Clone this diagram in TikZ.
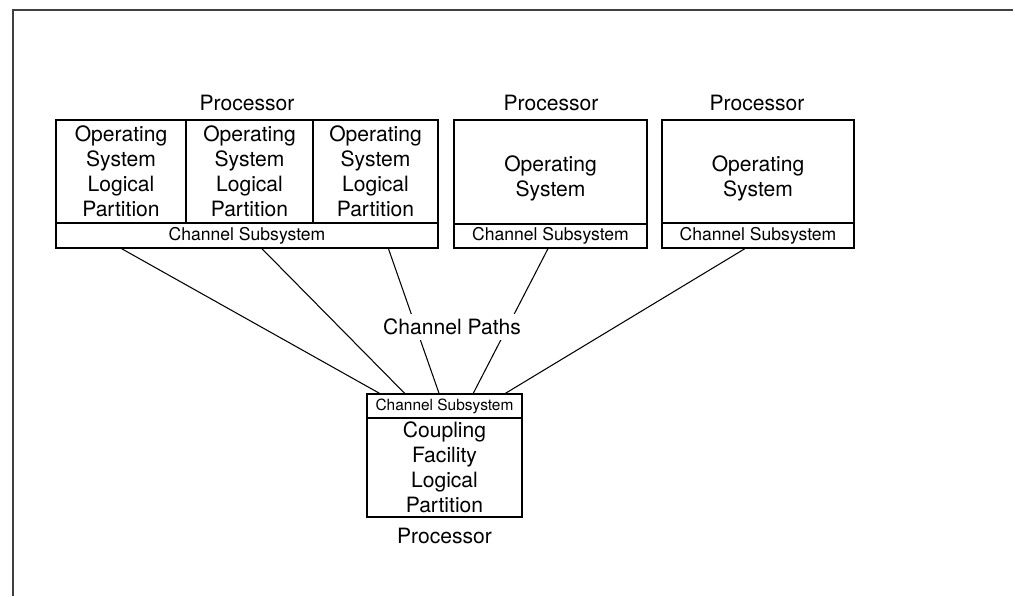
\documentclass[tikz,border=0pt]{standalone}
\usepackage{fontspec}
\setmainfont{TeX Gyre Heros}
\usetikzlibrary{calc}

\tikzset{
  partbox/.style={draw, line width=0.8pt, inner sep=0pt, align=center,
    font=\fontsize{12}{14.2}\selectfont},
  chanbox/.style={draw, line width=0.8pt, inner sep=0pt,
    font=\fontsize{10}{12}\selectfont},
  proclabel/.style={font=\fontsize{12}{14.2}\selectfont},
  chanline/.style={line width=0.6pt},
}

\begin{document}
\begin{tikzpicture}[x=0.02cm, y=-0.02cm]
    \useasboundingbox (0,0) rectangle (1015,596);
    \draw[line width=1.1pt, black!75] (1013,10) -- (13,10) -- (13,596);

    % Nodes
    % processor with three partitions
    \node[partbox, minimum width=2.6cm, minimum height=2.06cm] at (121, 171.5) (os1) {Operating\\System\\Logical\\Partition};
    \node[partbox, minimum width=2.54cm, minimum height=2.06cm] at (249.5, 171.5) (os2) {Operating\\System\\Logical\\Partition};
    \node[partbox, minimum width=2.5cm, minimum height=2.06cm] at (375.5, 171.5) (os3) {Operating\\System\\Logical\\Partition};
    \node[chanbox, minimum width=7.64cm, minimum height=0.5cm] at (247, 235.5) (cs1) {Channel Subsystem};
    \node[proclabel] at (247, 103) (p1) {Processor};

    % two single processors
    \node[partbox, minimum width=3.86cm, minimum height=2.08cm, text height=0.99cm, text depth=0pt] at (550.5, 172) (os4) {Operating\\System};
    \node[chanbox, minimum width=3.86cm, minimum height=0.48cm] at (550.5, 236) (cs2) {Channel Subsystem};
    \node[proclabel] at (551, 103) (p2) {Processor};

    \node[partbox, minimum width=3.84cm, minimum height=2.06cm, text height=0.99cm, text depth=0pt] at (758, 171.5) (os5) {Operating\\System};
    \node[chanbox, minimum width=3.84cm, minimum height=0.5cm] at (758, 235.5) (cs3) {Channel Subsystem};
    \node[proclabel] at (757, 103) (p3) {Processor};

    % coupling facility
    \node[chanbox, minimum width=3.1cm, minimum height=0.48cm, font=\fontsize{8.8}{10.5}\selectfont] at (444.5, 406) (cs4) {Channel Subsystem};
    \node[partbox, minimum width=3.1cm, minimum height=1.98cm] at (444.5, 467.5) (cf) {Coupling\\Facility\\Logical\\Partition};
    \node[proclabel] at (444.5, 536) (p4) {Processor};

    \draw[chanline] ($(cs1.south west)!.173!(cs1.south east)$) -- ($(cs4.north west)!.084!(cs4.north east)$);
    \draw[chanline] ($(cs1.south west)!.539!(cs1.south east)$) -- ($(cs4.north west)!.245!(cs4.north east)$);
    \draw[chanline] ($(cs1.south west)!.869!(cs1.south east)$) -- ($(cs4.north west)!.465!(cs4.north east)$);
    \draw[chanline] ($(cs2.south west)!.487!(cs2.south east)$) -- ($(cs4.north west)!.684!(cs4.north east)$);
    \draw[chanline] ($(cs3.south west)!.432!(cs3.south east)$) -- ($(cs4.north west)!.890!(cs4.north east)$);

    \node[proclabel, fill=white, inner sep=3pt] at (452, 327) (paths) {Channel Paths};

\end{tikzpicture}
\end{document}
